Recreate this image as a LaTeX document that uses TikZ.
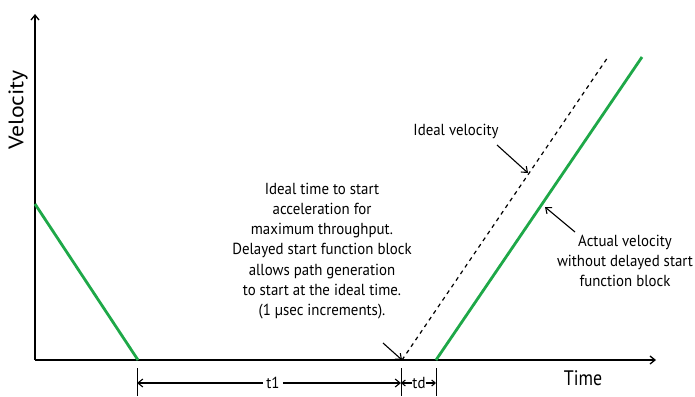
\documentclass[tikz,border=0pt]{standalone}
\usepackage{fontspec}
\setmainfont{PT Sans}
\newfontfamily\lblfont[FakeStretch=0.93]{PT Sans}
\newfontfamily\axfont[FakeStretch=0.85]{PT Sans}
\newfontfamily\vaxfont[FakeStretch=1.13]{PT Sans}
\usetikzlibrary{arrows.meta}
\definecolor{velgreen}{RGB}{30,168,72}
\begin{document}
\begin{tikzpicture}[x=1pt,y=-1pt,
  axis/.style={line width=1.8pt,-{Straight Barb[length=5pt,width=8pt,line width=1.3pt]}},
  vel/.style={line width=2.8pt,velgreen},
  ideal/.style={line width=1.2pt,dash pattern=on 4pt off 4pt},
  callout/.style={line width=1.1pt,-{Straight Barb[length=5pt,width=8pt]}},
  dimarrow/.style={line width=1.1pt,-{Straight Barb[length=5pt,width=8pt]}},
  smallarrow/.style={line width=1.1pt,-{Straight Barb[length=3.5pt,width=6pt]}},
  tick/.style={line width=0.9pt},
  lbl/.style={font=\lblfont\fontsize{16}{20.3}\selectfont,align=center,inner sep=1pt},
  axlbl/.style={font=\axfont\fontsize{21}{24}\selectfont,inner sep=1pt},
  vaxlbl/.style={font=\vaxfont\fontsize{21}{24}\selectfont,inner sep=1pt}]
\useasboundingbox (0,0) rectangle (695,396);
% axes
\coordinate (o) at (35,360);
\coordinate (ytop) at (35,14);
\coordinate (xend) at (656,360);
\draw[axis] (o) -- (ytop);
\draw[axis] (o) -- (xend);
\node[vaxlbl,rotate=90] (vlab) at (18,110) {Velocity};
\node[axlbl] (tlab) at (583,378) {Time};
% velocity profiles
\coordinate (decA) at (35,204);
\coordinate (decB) at (138,360);
\draw[vel] (decA) -- (decB);
\coordinate (actA) at (436,360);
\coordinate (actB) at (642,57);
\draw[vel] (actA) -- (actB);
\coordinate (idA) at (402,360);
\coordinate (idB) at (608,57);
\draw[ideal] (idA) -- (idB);
% labels and callouts
\node[lbl] (idlab) at (456,131) {Ideal velocity};
\coordinate (idpt) at (528,173);
\draw[callout] (497,145) -- (idpt);
\node[lbl] (actlab) at (625,261) {Actual velocity\\without delayed start\\function block};
\coordinate (actpt) at (545,207);
\draw[callout] (575,232) -- (actpt);
\node[lbl] (midlab) at (322,251) {Ideal time to start\\acceleration for\\maximum throughput.\\Delayed start function block\\allows path generation\\to start at the ideal time.\\(1 µsec increments).};
\draw[callout] (383,343) -- (idA);
% dimensions
\coordinate (d1) at (137,383);
\coordinate (d2) at (401,383);
\coordinate (d3) at (436,383);
\draw[tick] (137,368) -- (137,396);
\draw[tick] (401,368) -- (401,396);
\draw[tick] (436,368) -- (436,396);
\node[lbl,inner xsep=3pt] (t1) at (273,383) {t1};
\draw[dimarrow] (t1.west) -- (d1);
\draw[dimarrow] (t1.east) -- (d2);
\node[lbl,inner xsep=0pt] (td) at (419,383) {td};
\draw[smallarrow] (td.west) -- (d2);
\draw[smallarrow] (td.east) -- (d3);
\end{tikzpicture}
\end{document}
